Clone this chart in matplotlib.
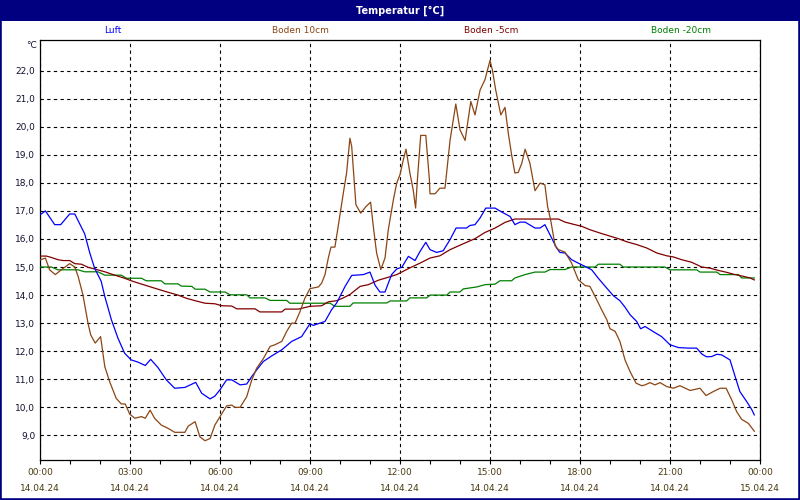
import matplotlib
matplotlib.use("Agg")
import matplotlib.pyplot as plt
from matplotlib.patches import Rectangle
from matplotlib.ticker import MultipleLocator

# ---------------- data (hours since 14.04.24 00:00, °C) ----------------
luft_t = [0.02, 0.18, 0.49, 0.69, 0.99, 1.16, 1.49, 1.66, 1.82, 2.04, 2.16, 2.38, 2.6, 2.82,
          3.04, 3.27, 3.51, 3.69, 3.93, 4.21, 4.49, 4.83, 5.19, 5.39, 5.67, 5.83, 6.01, 6.22,
          6.39, 6.67, 6.89, 7.06, 7.22, 7.44, 7.72, 8.06, 8.39, 8.72, 9.0, 9.11, 9.33, 9.5,
          9.72, 9.89, 10.17, 10.39, 10.78, 11.0, 11.17, 11.33, 11.5, 11.72, 11.89, 12.06,
          12.28, 12.5, 12.67, 12.86, 13.0, 13.22, 13.44, 13.67, 13.87, 14.22, 14.33, 14.5,
          14.67, 14.86, 15.17, 15.39, 15.67, 15.83, 16.0, 16.17, 16.5, 16.67, 16.83, 17.0,
          17.22, 17.33, 17.5, 17.72, 17.94, 18.17, 18.39, 18.61, 18.89, 19.11, 19.33, 19.5,
          19.67, 19.89, 20.02, 20.17, 20.44, 20.72, 21.0, 21.28, 21.61, 21.89, 22.06, 22.22,
          22.39, 22.56, 22.72, 23.0, 23.17, 23.33, 23.56, 23.72, 23.81]
luft_v = [16.87, 17.0, 16.51, 16.51, 16.89, 16.89, 16.18, 15.5, 14.96, 14.49, 13.95, 13.12,
          12.46, 11.93, 11.69, 11.61, 11.49, 11.71, 11.42, 10.98, 10.68, 10.71, 10.89, 10.5,
          10.3, 10.4, 10.64, 10.98, 10.98, 10.8, 10.83, 11.1, 11.33, 11.63, 11.83, 12.05,
          12.35, 12.52, 12.98, 12.92, 13.0, 13.06, 13.48, 13.72, 14.31, 14.7, 14.73, 14.82,
          14.35, 14.11, 14.11, 14.73, 14.93, 14.99, 15.38, 15.23, 15.56, 15.88, 15.62, 15.52,
          15.58, 15.98, 16.39, 16.39, 16.48, 16.51, 16.75, 17.1, 17.1, 16.96, 16.8, 16.51,
          16.6, 16.6, 16.39, 16.39, 16.51, 16.15, 15.68, 15.52, 15.5, 15.26, 15.14, 15.02,
          14.9, 14.6, 14.25, 13.98, 13.8, 13.57, 13.3, 13.06, 12.8, 12.88, 12.7, 12.52, 12.23,
          12.13, 12.11, 12.11, 11.9, 11.8, 11.81, 11.89, 11.87, 11.69, 11.1, 10.56, 10.2,
          9.93, 9.73]

boden10_t = [0.02, 0.18, 0.32, 0.51, 0.71, 0.99, 1.16, 1.27, 1.43, 1.6, 1.69, 1.84, 2.02,
             2.16, 2.32, 2.54, 2.71, 2.84, 2.99, 3.16, 3.38, 3.51, 3.67, 3.82, 4.04, 4.27,
             4.49, 4.83, 4.94, 5.17, 5.33, 5.5, 5.67, 5.83, 6.0, 6.22, 6.39, 6.5, 6.67, 6.89,
             7.06, 7.22, 7.44, 7.67, 7.83, 8.06, 8.22, 8.39, 8.5, 8.67, 8.83, 9.0, 9.28, 9.39,
             9.5, 9.61, 9.7, 9.83, 9.94, 10.11, 10.22, 10.33, 10.39, 10.47, 10.53, 10.69,
             10.87, 11.02, 11.11, 11.22, 11.36, 11.5, 11.61, 11.78, 11.89, 12.0, 12.11, 12.2,
             12.33, 12.44, 12.52, 12.58, 12.69, 12.86, 12.98, 13.0, 13.17, 13.33, 13.5, 13.67,
             13.86, 14.0, 14.17, 14.36, 14.5, 14.67, 14.83, 15.0, 15.08, 15.19, 15.36, 15.5,
             15.61, 15.72, 15.83, 15.94, 16.06, 16.17, 16.33, 16.5, 16.67, 16.83, 16.92,
             17.03, 17.17, 17.28, 17.5, 17.72, 17.94, 18.17, 18.33, 18.5, 18.72, 18.89, 19.0,
             19.17, 19.33, 19.5, 19.67, 19.87, 20.06, 20.17, 20.33, 20.5, 20.67, 20.89, 21.11,
             21.33, 21.67, 22.0, 22.2, 22.44, 22.67, 22.87, 23.06, 23.22, 23.39, 23.61, 23.81]
boden10_v = [15.26, 15.32, 14.9, 14.73, 14.9, 15.12, 15.0, 14.67, 14.01, 13.0, 12.58, 12.29,
             12.52, 11.45, 10.92, 10.32, 10.12, 10.12, 9.76, 9.61, 9.67, 9.61, 9.9, 9.61, 9.37,
             9.25, 9.11, 9.11, 9.33, 9.49, 8.95, 8.81, 8.89, 9.37, 9.67, 10.05, 10.08, 10.0,
             10.0, 10.38, 10.98, 11.39, 11.73, 12.17, 12.23, 12.35, 12.7, 13.0, 13.0, 13.42,
             13.89, 14.23, 14.29, 14.43, 14.73, 15.32, 15.71, 15.71, 16.45, 17.63, 18.35,
             19.59, 19.3, 18.11, 17.22, 16.92, 17.16, 17.31, 16.45, 15.5, 14.91, 15.32, 16.33,
             17.4, 17.99, 18.29, 18.82, 19.2, 18.35, 17.75, 17.1, 18.11, 19.69, 19.69, 18.11,
             17.61, 17.61, 17.81, 17.81, 19.53, 20.81, 19.89, 19.51, 20.9, 20.42, 21.31, 21.67,
             22.36, 22.02, 21.31, 20.42, 20.69, 19.77, 19.0, 18.35, 18.37, 18.7, 19.2, 18.7,
             17.72, 17.99, 17.93, 17.16, 16.63, 15.76, 15.62, 15.53, 15.14, 14.55, 14.34,
             14.31, 13.96, 13.48, 13.13, 12.8, 12.71, 12.35, 11.69, 11.27, 10.86, 10.77, 10.8,
             10.88, 10.8, 10.88, 10.74, 10.68, 10.77, 10.6, 10.68, 10.42, 10.56, 10.68, 10.68,
             10.26, 9.85, 9.57, 9.43, 9.15]

boden5_t = [0.02, 0.21, 0.35, 0.6, 0.77, 0.99, 1.16, 1.38, 1.6, 1.82, 2.16, 2.49, 2.82, 3.04,
            3.27, 3.6, 3.93, 4.27, 4.6, 4.87, 5.17, 5.5, 5.83, 6.06, 6.39, 6.56, 7.17, 7.33,
            8.06, 8.17, 8.61, 9.0, 9.39, 9.61, 9.89, 10.11, 10.33, 10.67, 10.94, 11.28, 11.56,
            11.89, 12.33, 12.67, 13.0, 13.33, 13.67, 14.11, 14.5, 14.83, 15.17, 15.5, 15.83,
            16.17, 17.28, 17.5, 17.83, 18.06, 18.33, 18.61, 18.94, 19.28, 19.56, 19.89, 20.22,
            20.56, 20.89, 21.11, 21.39, 21.72, 22.06, 22.33, 22.61, 22.89, 23.17, 23.44,
            23.67, 23.81]
boden5_v = [15.39, 15.39, 15.35, 15.26, 15.23, 15.23, 15.12, 15.1, 14.99, 14.93, 14.83, 14.71,
            14.6, 14.51, 14.43, 14.32, 14.21, 14.1, 14.0, 13.89, 13.8, 13.71, 13.69, 13.62,
            13.61, 13.51, 13.51, 13.4, 13.4, 13.5, 13.5, 13.6, 13.62, 13.76, 13.8, 13.9, 14.02,
            14.31, 14.37, 14.53, 14.62, 14.73, 14.97, 15.14, 15.32, 15.4, 15.62, 15.83, 16.01,
            16.23, 16.39, 16.59, 16.71, 16.71, 16.71, 16.6, 16.51, 16.45, 16.33, 16.23, 16.12,
            16.01, 15.9, 15.8, 15.68, 15.5, 15.4, 15.36, 15.26, 15.17, 15.0, 14.96, 14.88,
            14.81, 14.73, 14.67, 14.61, 14.54]

boden20_t = [0.02, 0.38, 0.6, 1.27, 1.49, 1.93, 2.16, 2.71, 2.88, 3.38, 3.54, 4.04, 4.16, 4.6,
             4.71, 5.06, 5.17, 5.5, 5.67, 6.17, 6.33, 6.89, 7.0, 7.5, 7.67, 8.22, 8.33, 9.67,
             9.83, 10.33, 10.44, 11.56, 11.67, 12.22, 12.33, 12.89, 13.0, 13.56, 13.67, 14.0,
             14.11, 14.56, 14.83, 15.17, 15.33, 15.72, 15.83, 16.17, 16.5, 16.83, 17.0, 17.5,
             17.72, 18.5, 18.61, 19.33, 19.44, 20.83, 21.0, 21.89, 22.0, 22.56, 22.67, 23.28,
             23.39, 23.81]
boden20_v = [15.0, 15.0, 14.9, 14.9, 14.83, 14.83, 14.71, 14.71, 14.6, 14.6, 14.51, 14.51,
             14.4, 14.4, 14.32, 14.31, 14.21, 14.21, 14.11, 14.11, 14.01, 14.01, 13.9, 13.9,
             13.81, 13.81, 13.71, 13.71, 13.6, 13.6, 13.72, 13.72, 13.79, 13.79, 13.9, 13.9,
             14.0, 14.0, 14.11, 14.11, 14.22, 14.29, 14.37, 14.39, 14.51, 14.51, 14.61, 14.73,
             14.82, 14.82, 14.91, 14.91, 15.0, 15.0, 15.1, 15.1, 15.0, 15.0, 14.9, 14.9, 14.82,
             14.82, 14.73, 14.73, 14.61, 14.61]

series_names = ["Luft", "Boden 10cm", "Boden -5cm", "Boden -20cm"]
series_colors = ["#0000FF", "#8B4513", "#800000", "#008000"]

tick_hours = [0, 3, 6, 9, 12, 15, 18, 21, 24]
tick_times = ["00:00", "03:00", "06:00", "09:00", "12:00", "15:00", "18:00", "21:00", "00:00"]
tick_dates = ["14.04.24"] * 8 + ["15.04.24"]
y_ticks = [9, 10, 11, 12, 13, 14, 15, 16, 17, 18, 19, 20, 21, 22]
title = "Temperatur [°C]"
unit = "°C"

# ---------------- figure ----------------
W, H = 800, 500
navy = "#000080"
fig = plt.figure(figsize=(W / 100, H / 100), dpi=100)
fig.patch.set_facecolor("white")

# title bar
fig.patches.append(Rectangle((0, 1 - 21 / H), 1, 21 / H, transform=fig.transFigure,
                             facecolor=navy, edgecolor="none", zorder=0))
# outer frame
fig.patches.append(Rectangle((0, 0), 1, 1, transform=fig.transFigure, fill=False,
                             edgecolor=navy, linewidth=2.6, zorder=5))
fig.text(0.5, 1 - 10.5 / H, title, color="white", fontsize=7, fontweight="bold",
         ha="center", va="center", family="DejaVu Sans")

# legend row
legend_x = [113, 300, 491, 681]
for name, col, lx in zip(series_names, series_colors, legend_x):
    fig.text(lx / W, 1 - 30.5 / H, name, color=col, fontsize=6.5, ha="center", va="center")

ax = fig.add_axes([40 / W, 1 - 460 / H, 720 / W, 420 / H])
ax.set_xlim(0, 24)
ax.set_ylim(8.123, 23.09)

all_t = [luft_t, boden10_t, boden5_t, boden20_t]
all_v = [luft_v, boden10_v, boden5_v, boden20_v]
order = [3, 2, 0, 1]
for i in order:
    ax.plot(all_t[i], all_v[i], color=series_colors[i], lw=0.9, zorder=3)

ax.set_yticks(y_ticks)
ax.set_yticklabels([f"{v:.1f}".replace(".", ",") for v in y_ticks])
ax.set_xticks(tick_hours)
ax.set_xticklabels([f"{a}\n{b}" for a, b in zip(tick_times, tick_dates)])
ax.xaxis.set_minor_locator(MultipleLocator(1))

ax.grid(True, which="major", color="black", linestyle=(0, (3, 3)), linewidth=0.8)
ax.tick_params(axis="y", length=0, pad=3.5, labelsize=6.5, labelcolor="#101030")
ax.tick_params(axis="x", which="major", length=3, width=0.8, direction="out", pad=3,
               labelsize=6.5, labelcolor="#4a3a10")
ax.tick_params(axis="x", which="minor", length=3, width=0.8, direction="out")
for lab in ax.get_xticklabels():
    lab.set_linespacing(1.9)
for sp in ax.spines.values():
    sp.set_linewidth(0.9)
    sp.set_color("black")

fig.text(37 / W, 1 - 45 / H, unit, fontsize=6.5, ha="right", va="center", color="#101030")

fig.savefig("out.png", dpi=100)
